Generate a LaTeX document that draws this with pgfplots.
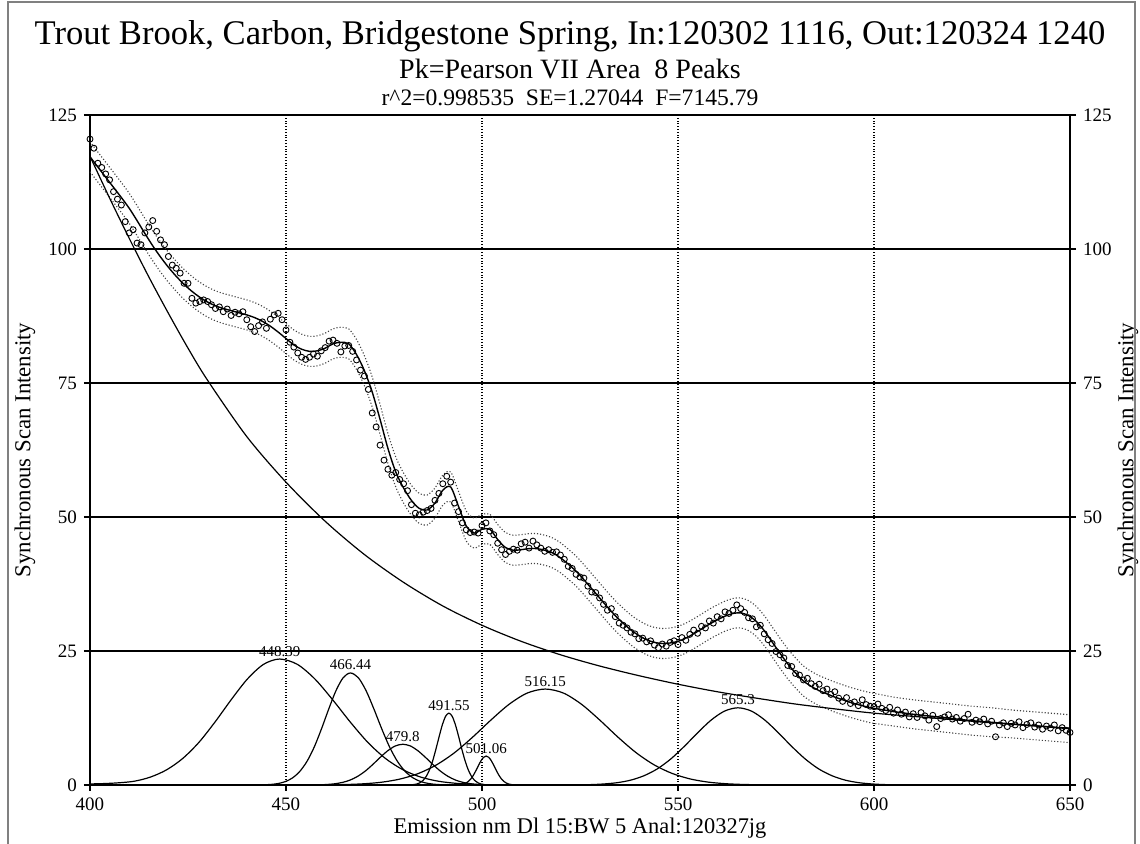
\documentclass[border=0pt]{standalone}
\usepackage{fontspec}
\setmainfont{Liberation Serif}
\usepackage{pgfplots}
\usepackage{pgfplotstable}
\pgfplotsset{compat=1.18}

% observed intensities, one per nm
\pgfplotstableread{
x y
400 120.5
401 118.8
402 116.0
403 115.2
404 114.0
405 112.9
406 110.7
407 109.3
408 108.2
409 105.1
410 103.0
411 103.6
412 101.1
413 100.8
414 103.0
415 104.1
416 105.3
417 103.3
418 101.7
419 100.8
420 98.6
421 97.0
422 96.4
423 95.5
424 93.6
425 93.6
426 90.8
427 89.9
428 90.2
429 90.5
430 90.2
431 89.6
432 88.9
433 89.2
434 88.3
435 88.8
436 87.6
437 88.2
438 87.9
439 88.3
440 86.8
441 85.5
442 84.6
443 85.7
444 86.4
445 85.2
446 86.9
447 87.7
448 88.0
449 86.8
450 84.9
451 82.6
452 81.7
453 80.6
454 79.8
455 79.4
456 79.8
457 80.4
458 80.0
459 81.0
460 81.6
461 82.8
462 83.0
463 82.4
464 80.8
465 81.9
466 82.0
467 80.9
468 79.3
469 77.4
470 76.3
471 73.8
472 69.4
473 66.8
474 63.4
475 60.6
476 58.9
477 57.8
478 58.3
479 57.0
480 56.2
481 54.9
482 52.3
483 50.7
484 50.4
485 50.9
486 51.2
487 51.6
488 53.1
489 54.4
490 56.2
491 57.6
492 56.5
493 52.6
494 51.0
495 48.9
496 47.6
497 47.1
498 47.2
499 47.0
500 48.4
501 48.9
502 47.4
503 46.7
504 45.1
505 43.9
506 43.0
507 43.6
508 44.0
509 43.8
510 45.0
511 45.3
512 44.2
513 45.5
514 44.8
515 44.2
516 43.6
517 43.9
518 43.4
519 43.5
520 42.9
521 42.1
522 40.8
523 40.4
524 39.3
525 38.8
526 38.6
527 37.1
528 36.0
529 35.9
530 34.9
531 33.7
532 32.6
533 32.9
534 31.4
535 30.2
536 29.8
537 29.3
538 28.5
539 28.2
540 27.3
541 27.4
542 26.7
543 26.9
544 26.1
545 25.6
546 26.3
547 25.9
548 26.6
549 26.9
550 26.2
551 27.5
552 27.0
553 28.1
554 28.9
555 28.3
556 29.6
557 29.3
558 30.6
559 30.2
560 31.4
561 31.0
562 32.3
563 32.0
564 32.6
565 33.6
566 32.9
567 32.2
568 31.2
569 31.0
570 29.5
571 29.8
572 28.2
573 27.1
574 26.4
575 24.9
576 24.3
577 23.7
578 22.3
579 22.1
580 20.8
581 20.5
582 19.6
583 19.9
584 18.9
585 18.4
586 18.8
587 17.6
588 17.9
589 16.9
590 17.4
591 16.2
592 15.6
593 16.3
594 15.2
595 15.5
596 14.8
597 15.9
598 15.0
599 14.7
600 14.6
601 15.1
602 14.3
603 13.9
604 14.5
605 13.4
606 14.0
607 13.2
608 13.6
609 12.7
610 13.3
611 12.6
612 13.5
613 12.9
614 12.1
615 13.0
616 10.9
617 12.4
618 12.7
619 13.1
620 12.3
621 12.6
622 11.9
623 12.4
624 13.2
625 11.7
626 12.1
627 11.8
628 12.3
629 11.4
630 11.9
631 9.0
632 11.2
633 11.6
634 10.9
635 11.5
636 11.2
637 11.8
638 10.7
639 11.3
640 11.6
641 10.8
642 11.2
643 10.4
644 11.0
645 10.6
646 11.2
647 10.1
648 10.7
649 10.2
650 9.8
}\obs

% fitted curve with upper and lower bands
\pgfplotstableread{
x fit up lo
400 117.2 120.0 114.4
402 115.3 118.1 112.5
404 113.4 116.2 110.6
406 111.5 114.3 108.7
408 109.6 112.4 106.8
410 107.6 110.4 104.8
412 105.3 108.1 102.5
414 102.9 105.7 100.1
416 100.6 103.4 97.8
418 98.5 101.3 95.7
420 96.6 99.4 93.8
422 94.9 97.7 92.1
424 93.4 96.2 90.6
426 92.1 94.9 89.3
428 91.0 93.8 88.2
430 90.1 92.9 87.3
432 89.4 92.2 86.6
434 88.9 91.7 86.1
436 88.5 91.3 85.7
438 88.1 90.9 85.3
440 87.7 90.5 84.9
442 87.2 90.0 84.4
444 86.5 89.3 83.7
446 85.6 88.4 82.8
448 84.5 87.3 81.7
450 83.3 86.1 80.5
452 82.1 84.9 79.3
454 81.3 84.1 78.5
456 80.9 83.7 78.1
458 81.0 83.8 78.2
460 81.5 84.3 78.7
462 82.3 85.1 79.5
464 82.6 85.4 79.8
466 82.3 85.1 79.5
468 80.3 83.1 77.5
470 77.3 80.1 74.5
472 73.3 76.1 70.5
474 68.2 71.0 65.4
476 62.8 65.6 60.0
478 58.4 61.2 55.6
480 55.4 58.2 52.6
482 53.1 55.9 50.3
484 51.6 54.4 48.8
486 51.3 54.1 48.5
488 52.6 55.4 49.8
490 55.0 57.8 52.2
492 55.6 58.4 52.8
494 52.0 54.8 49.2
496 48.3 51.1 45.5
498 47.0 49.8 44.2
500 47.7 50.5 44.9
502 47.7 50.5 44.9
504 45.8 48.6 43.0
506 44.3 47.1 41.5
508 43.8 46.6 41.0
510 43.9 46.7 41.1
512 44.1 46.9 41.3
514 44.1 46.9 41.3
516 43.8 46.6 41.0
518 43.3 46.1 40.5
520 42.4 45.2 39.6
522 41.2 44.0 38.4
524 39.9 42.7 37.1
526 38.3 41.1 35.5
528 36.6 39.4 33.8
530 34.9 37.7 32.1
532 33.2 36.0 30.4
534 31.6 34.4 28.8
536 30.2 33.0 27.4
538 28.9 31.7 26.1
540 27.9 30.7 25.1
542 27.1 29.9 24.3
544 26.6 29.4 23.8
546 26.4 29.2 23.6
548 26.5 29.3 23.7
550 26.8 29.6 24.0
552 27.4 30.2 24.6
554 28.2 31.0 25.4
556 29.1 31.9 26.3
558 30.0 32.8 27.2
560 30.8 33.6 28.0
562 31.5 34.3 28.7
564 32.0 34.8 29.2
566 32.1 34.9 29.3
568 31.6 34.4 28.8
570 30.5 33.3 27.7
572 28.8 31.6 26.0
574 26.7 29.5 23.9
576 24.6 27.4 21.8
578 22.6 25.4 19.8
580 20.9 23.7 18.1
582 19.4 22.2 16.6
584 18.4 21.2 15.6
586 17.6 20.4 14.8
588 17.0 19.8 14.2
590 16.4 19.2 13.6
592 15.9 18.7 13.1
594 15.4 18.2 12.6
596 15.0 17.8 12.2
598 14.6 17.4 11.8
600 14.3 17.1 11.5
605 13.7 16.4 11.0
610 13.2 15.9 10.5
615 12.8 15.5 10.1
620 12.4 15.1 9.7
625 12.0 14.7 9.3
630 11.7 14.4 9.0
635 11.4 14.0 8.8
640 11.1 13.7 8.5
645 10.8 13.4 8.2
650 10.5 13.1 7.9
}\fit

\tikzset{pk/.style={black,line width=0.6pt,smooth}}

\begin{document}
\begin{tikzpicture}
\useasboundingbox (-45pt,-29.5pt) rectangle (525pt,392.5pt);
\begin{axis}[
  at={(0,0)},anchor=south west,scale only axis,width=490pt,height=335pt,
  xmin=400,xmax=650,ymin=0,ymax=125,
  xtick={400,450,...,650},ytick={0,25,...,125},
  xtick pos=bottom,ytick pos=left,
  tick align=outside,major tick length=3pt,
  tick style={black,line width=0.6pt},
  axis line style={black,line width=0.6pt},
  xmajorgrids,ymajorgrids,
  x grid style={black,densely dotted,line width=0.6pt},
  y grid style={black,line width=0.6pt},
  tick label style={font=\fontsize{9.5}{11}\selectfont},
  /pgf/number format/assume math mode=true,
]
\addplot[only marks,mark=o,mark size=1.5pt,mark options={line width=0.45pt,black}] table[x=x,y=y]{\obs};
\addplot[black!75,densely dotted,line width=0.55pt,smooth] table[x=x,y=up]{\fit};
\addplot[black!75,densely dotted,line width=0.55pt,smooth] table[x=x,y=lo]{\fit};
\addplot[black,line width=0.7pt,smooth] table[x=x,y=fit]{\fit};
% baseline
\addplot[pk] coordinates {(400,117.3)(405,109.5)(410,102.0)(415,94.8)(420,88.0)(425,81.5)(430,75.5)(440,65.0)(450,56.5)(460,49.2)(470,43.0)(480,37.8)(490,33.4)(500,29.8)(510,26.8)(520,24.3)(530,22.2)(540,20.4)(550,18.8)(560,17.4)(570,16.2)(580,15.1)(590,14.2)(600,13.4)(610,12.8)(620,12.2)(630,11.6)(640,11.1)(650,10.6)};
% 448.39
\addplot[pk] coordinates {(400,0.2)(403.02,0.25)(407.14,0.4)(411.27,0.7)(415.39,1.47)(419.52,2.82)(423.64,4.94)(427.77,7.94)(431.89,11.75)(436.02,15.91)(440.14,19.76)(444.27,22.51)(448.39,23.5)(452.89,22.51)(457.39,19.76)(461.89,15.91)(466.39,11.75)(470.89,7.94)(475.39,4.94)(479.89,2.82)(484.39,1.47)(488.89,0.7)(493.39,0.31)(497.89,0.12)(502.39,0.05)(508,0)};
% 466.44
\addplot[pk] coordinates {(444.24,0.04)(446.09,0.1)(447.94,0.27)(449.79,0.62)(451.64,1.31)(453.49,2.51)(455.34,4.39)(457.19,7.06)(459.04,10.45)(460.89,14.15)(462.74,17.58)(464.59,20.02)(466.44,20.9)(468.44,20.02)(470.44,17.58)(472.44,14.15)(474.44,10.45)(476.44,7.06)(478.44,4.39)(480.44,2.51)(482.44,1.31)(484.44,0.62)(486.44,0.27)(488.44,0.1)(490.44,0.04)};
% 479.8
\addplot[pk] coordinates {(456.7,0.02)(458.63,0.04)(460.55,0.1)(462.48,0.23)(464.4,0.48)(466.33,0.91)(468.25,1.6)(470.18,2.57)(472.1,3.8)(474.03,5.15)(475.95,6.39)(477.88,7.28)(479.8,7.6)(481.73,7.28)(483.65,6.39)(485.58,5.15)(487.5,3.8)(489.43,2.57)(491.35,1.6)(493.28,0.91)(495.2,0.48)(497.13,0.23)(499.05,0.1)(500.98,0.04)(502.9,0.02)};
% 491.55
\addplot[pk] coordinates {(481.65,0.03)(482.48,0.07)(483.3,0.17)(484.13,0.4)(484.95,0.84)(485.78,1.61)(486.6,2.82)(487.43,4.53)(488.25,6.7)(489.08,9.07)(489.9,11.27)(490.73,12.84)(491.55,13.4)(492.38,12.84)(493.2,11.27)(494.03,9.07)(494.85,6.7)(495.68,4.53)(496.5,2.82)(497.33,1.61)(498.15,0.84)(498.98,0.4)(499.8,0.17)(500.63,0.07)(501.45,0.03)};
% 501.06
\addplot[pk] coordinates {(493.26,0.01)(493.91,0.03)(494.56,0.07)(495.21,0.16)(495.86,0.34)(496.51,0.65)(497.16,1.13)(497.81,1.83)(498.46,2.7)(499.11,3.66)(499.76,4.54)(500.41,5.17)(501.06,5.4)(501.71,5.17)(502.36,4.54)(503.01,3.66)(503.66,2.7)(504.31,1.83)(504.96,1.13)(505.61,0.65)(506.26,0.34)(506.91,0.16)(507.56,0.07)(508.21,0.03)(508.86,0.01)};
% 516.15
\addplot[pk] coordinates {(460.65,0.04)(465.28,0.09)(469.9,0.23)(474.53,0.53)(479.15,1.12)(483.78,2.15)(488.4,3.76)(493.03,6.05)(497.65,8.95)(502.28,12.12)(506.9,15.05)(511.53,17.15)(516.15,17.9)(520.78,17.15)(525.4,15.05)(530.03,12.12)(534.65,8.95)(539.28,6.05)(543.9,3.76)(548.53,2.15)(553.15,1.12)(557.78,0.53)(562.4,0.23)(567.03,0.09)(571.65,0.04)};
% 565.3
\addplot[pk] coordinates {(524.2,0.03)(527.63,0.07)(531.05,0.19)(534.48,0.43)(537.9,0.9)(541.33,1.73)(544.75,3.02)(548.18,4.87)(551.6,7.2)(555.03,9.75)(558.45,12.11)(561.88,13.79)(565.3,14.4)(568.73,13.79)(572.15,12.11)(575.58,9.75)(579.0,7.2)(582.43,4.87)(585.85,3.02)(589.28,1.73)(592.7,0.9)(596.13,0.43)(599.55,0.19)(602.98,0.07)(606.4,0.03)};
\begin{scope}[every node/.style={anchor=south,inner sep=1.2pt,font=\fontsize{7.5}{9}\selectfont}]
\node at (axis cs:448.39,23.5) {448.39};
\node at (axis cs:466.44,20.9) {466.44};
\node at (axis cs:479.8,7.6) {479.8};
\node at (axis cs:491.55,13.4) {491.55};
\node at (axis cs:501.06,5.4) {501.06};
\node at (axis cs:516.15,17.9) {516.15};
\node at (axis cs:565.3,14.4) {565.3};
\end{scope}
\end{axis}
\begin{axis}[
  at={(0,0)},anchor=south west,scale only axis,width=490pt,height=335pt,
  xmin=400,xmax=650,ymin=0,ymax=125,
  axis x line=none,axis y line*=right,
  ytick={0,25,...,125},
  tick align=outside,major tick length=3pt,
  tick style={black,line width=0.6pt},
  axis line style={black,line width=0.6pt,-},
  tick label style={font=\fontsize{9.5}{11}\selectfont},
  /pgf/number format/assume math mode=true,
]
\end{axis}
\node at (240pt,374.5pt) {\fontsize{17.3}{20}\selectfont Trout Brook, Carbon, Bridgestone Spring, In:120302 1116, Out:120324 1240};
\node at (240pt,358pt) {\fontsize{14}{16}\selectfont Pk=Pearson VII Area\ \ 8 Peaks};
\node at (240pt,343.5pt) {\fontsize{11.8}{14}\selectfont r\^{}2=0.998535\ \ SE=1.27044\ \ F=7145.79};
\node at (245pt,-21.5pt) {\fontsize{11.2}{13}\selectfont Emission nm Dl 15:BW 5 Anal:120327jg};
\node[rotate=90] at (-32.5pt,167.5pt) {\fontsize{11.4}{13}\selectfont Synchronous Scan Intensity};
\node[rotate=90] at (519pt,167.5pt) {\fontsize{11.4}{13}\selectfont Synchronous Scan Intensity};
\draw[gray,line width=0.6pt] (-41pt,-29.5pt) -- (-41pt,391.5pt) -- (522.5pt,391.5pt) -- (522.5pt,-29.5pt);
\end{tikzpicture}
\end{document}
